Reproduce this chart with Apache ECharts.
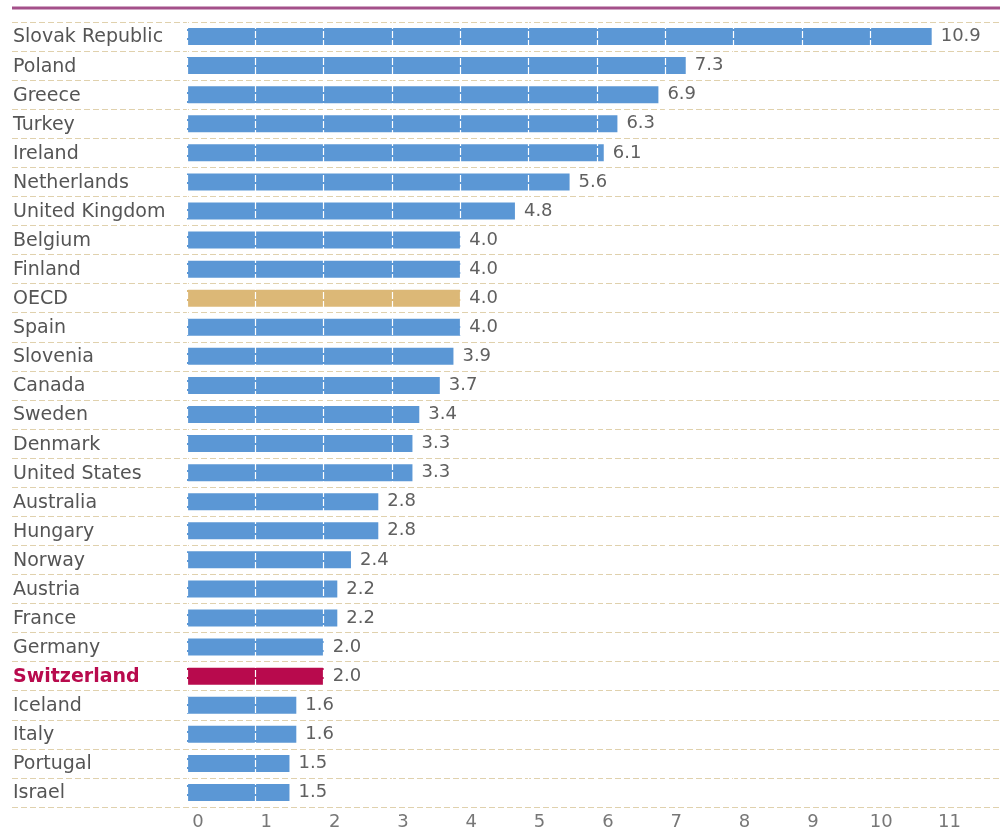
<!DOCTYPE html>
<html>
<head>
<meta charset="utf-8">
<script src="https://cdn.jsdelivr.net/npm/echarts@6/dist/echarts.min.js"></script>
<style>
  html, body { margin: 0; padding: 0; background: #fff; }
  #chart { width: 1000px; height: 832px; }
</style>
</head>
<body>
<div id="chart"></div>
<script>
// countries, top to bottom
const countries = ['Slovak Republic', 'Poland', 'Greece', 'Turkey', 'Ireland', 'Netherlands',
  'United Kingdom', 'Belgium', 'Finland', 'OECD', 'Spain', 'Slovenia', 'Canada', 'Sweden',
  'Denmark', 'United States', 'Australia', 'Hungary', 'Norway', 'Austria', 'France', 'Germany',
  'Switzerland', 'Iceland', 'Italy', 'Portugal', 'Israel'];
const values = [10.9, 7.3, 6.9, 6.3, 6.1, 5.6, 4.8, 4.0, 4.0, 4.0, 4.0, 3.9, 3.7, 3.4,
  3.3, 3.3, 2.8, 2.8, 2.4, 2.2, 2.2, 2.0, 2.0, 1.6, 1.6, 1.5, 1.5];
const xTicks = [0, 1, 2, 3, 4, 5, 6, 7, 8, 9, 10, 11];

const BLUE = '#5b97d5';
const OECD_COL = '#dcb877';
const SWISS_COL = '#b80a4d';
const TXT = '#555';
const FONT = 'DejaVu Sans';

const barColor = name => name === 'OECD' ? OECD_COL : (name === 'Switzerland' ? SWISS_COL : BLUE);

const gridTop = 22, gridH = 785;

const chart = echarts.init(document.getElementById('chart'));
chart.setOption({
  backgroundColor: '#fff',
  animation: false,
  graphic: [{
    type: 'rect', left: 12, top: 6.5, shape: { width: 988, height: 3 },
    style: { fill: '#a4508a' }
  }],
  grid: [
    // background grid only for the dashed row lines (they run under the labels too)
    { left: 12, top: gridTop, right: 0, height: gridH },
    { left: 187, top: gridTop, right: 0, height: gridH }
  ],
  xAxis: [
    { gridIndex: 0, type: 'value', show: false, min: 0, max: 1 },
    {
      gridIndex: 1, type: 'value', min: 0, max: 11.9, interval: 1, z: 10,
      axisLine: { show: false }, axisTick: { show: false },
      splitLine: { show: true, lineStyle: { color: '#ffffff', width: 1.2, type: [7, 2] } },
      axisLabel: {
        color: '#777', fontFamily: FONT, fontSize: 18, margin: 6,
        padding: [0, 0, 0, 22], showMaxLabel: false,
        formatter: v => xTicks.indexOf(v) >= 0 ? String(v) : ''
      }
    }
  ],
  yAxis: [
    {
      gridIndex: 0, type: 'category', data: countries, inverse: true,
      axisLine: { show: false }, axisTick: { show: false }, axisLabel: { show: false },
      splitLine: { show: true, lineStyle: { color: '#e0d1ad', width: 1, type: [6, 3] } }
    },
    {
      gridIndex: 1, type: 'category', data: countries, inverse: true,
      axisLine: { show: false }, axisTick: { show: false }, splitLine: { show: false },
      axisLabel: {
        align: 'left', margin: 174, fontFamily: FONT, fontSize: 19, color: TXT,
        padding: [2, 0, 0, 0],
        formatter: v => v === 'Switzerland' ? '{sw|' + v + '}' : v,
        rich: { sw: { color: SWISS_COL, fontWeight: 'bold', fontFamily: FONT, fontSize: 19 } }
      }
    }
  ],
  series: [
    {
      type: 'bar',
      xAxisIndex: 1, yAxisIndex: 1,
      data: values,
      barWidth: 17,
      itemStyle: { color: p => barColor(p.name) }
    },
    {
      // transparent copy on top of the white grid lines, carrying the value labels
      type: 'bar',
      xAxisIndex: 1, yAxisIndex: 1,
      data: values,
      barWidth: 17,
      barGap: '-100%',
      z: 20,
      itemStyle: { color: 'rgba(0,0,0,0)' },
      label: {
        show: true, position: 'right', distance: 9,
        fontFamily: FONT, fontSize: 18, color: '#606060',
        padding: [3, 0, 0, 0],
        formatter: p => p.value.toFixed(1)
      }
    }
  ]
});
</script>
</body>
</html>
